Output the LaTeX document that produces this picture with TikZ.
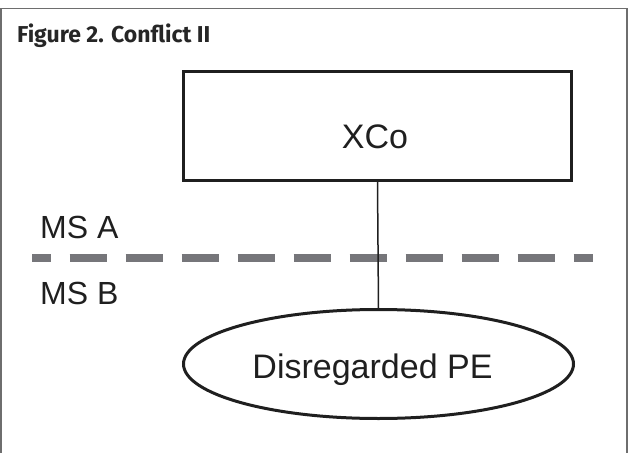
\documentclass[tikz,border=0pt]{standalone}
\usepackage{fontspec}
\setmainfont{Liberation Sans}
\newfontfamily\titlefont{Fira Sans}
\usetikzlibrary{shapes.geometric}
\definecolor{dashgray}{RGB}{118,118,122}
\definecolor{framegray}{RGB}{110,110,110}

\begin{document}
\begin{tikzpicture}[x=1pt, y=-1pt,
	frameline/.style={draw=framegray, line width=1.5pt},
	entity/.style={draw=black!88, line width=3pt, inner sep=0pt},
	label/.style={anchor=base, inner sep=0pt, font=\fontsize{34}{40}\selectfont, text=black!88},
	msline/.style={draw=dashgray, line width=8pt, dash pattern=on 37pt off 19pt, dash phase=18.5pt}]
			%%%%% START %%%%%
			\useasboundingbox (0, 0) rectangle (633, 453);
			
			\draw[frameline] (1, 453) |- (627, 8.5) -- (627, 453);
			\node[anchor=base west, inner sep=0pt, font=\titlefont\bfseries\fontsize{23}{27}\selectfont, text=black!85] (title) at (17, 42) {Figure 2. Conflict II};
			
			\node[entity, rectangle, minimum width=388pt, minimum height=109pt] (xco) at (377.5, 126) {};
			\node[label] (xcotext) at (375, 148) {XCo};
			
			\node[entity, ellipse, minimum width=390pt, minimum height=109pt] (pe) at (378.5, 364) {};
			\node[label] (petext) at (372.5, 378) {Disregarded PE};
			
			\draw[msline] (32, 258) -- (593, 258);
			\node[label, anchor=base west, font=\fontsize{32}{38}\selectfont] (msa) at (40, 238) {MS A};
			\node[label, anchor=base west, font=\fontsize{32}{38}\selectfont] (msb) at (40, 304) {MS B};
			
			\draw[line width=1.5pt, black!88] (xco.south) -- (pe.north);
			%%%%% END %%%%%
\end{tikzpicture}
\end{document}
